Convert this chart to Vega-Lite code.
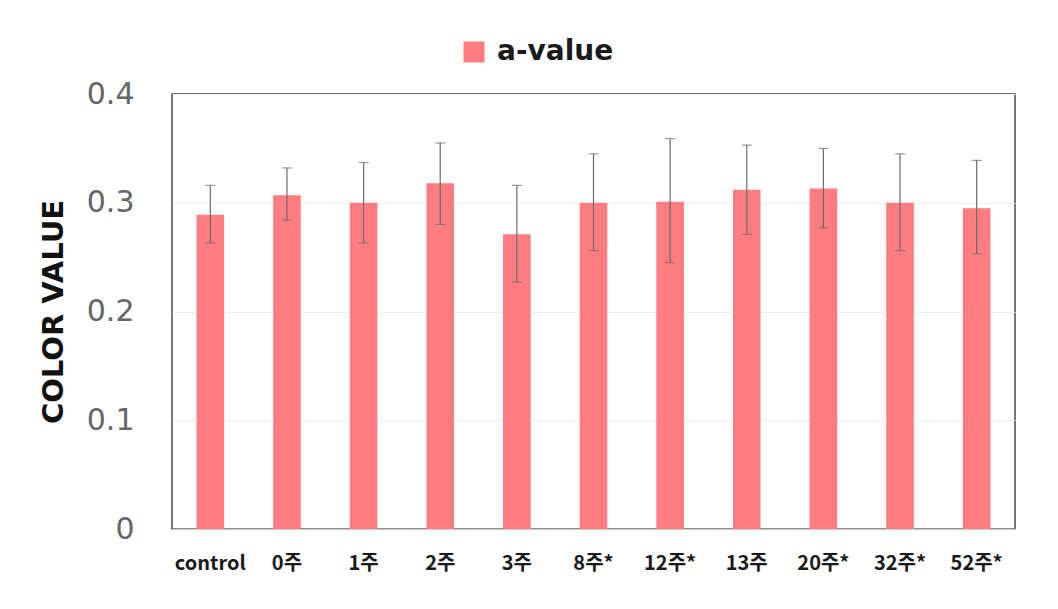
{
  "$schema": "https://vega.github.io/schema/vega-lite/v6.json",
  "width": 843,
  "height": 435,
  "autosize": {"type": "none"},
  "padding": {"left": 172, "top": 94, "right": 43, "bottom": 80},
  "background": "#ffffff",
  "config": {
    "view": {"stroke": "#4a4a4a", "strokeWidth": 1.5},
    "font": "DejaVu Sans"
  },
  "data": {
    "values": [
      {"week": "control", "series": "a-value", "value": 0.289, "lo": 0.263, "hi": 0.316},
      {"week": "0주", "series": "a-value", "value": 0.307, "lo": 0.284, "hi": 0.332},
      {"week": "1주", "series": "a-value", "value": 0.300, "lo": 0.263, "hi": 0.337},
      {"week": "2주", "series": "a-value", "value": 0.318, "lo": 0.280, "hi": 0.355},
      {"week": "3주", "series": "a-value", "value": 0.271, "lo": 0.227, "hi": 0.316},
      {"week": "8주*", "series": "a-value", "value": 0.300, "lo": 0.256, "hi": 0.345},
      {"week": "12주*", "series": "a-value", "value": 0.301, "lo": 0.245, "hi": 0.359},
      {"week": "13주", "series": "a-value", "value": 0.312, "lo": 0.271, "hi": 0.353},
      {"week": "20주*", "series": "a-value", "value": 0.313, "lo": 0.277, "hi": 0.350},
      {"week": "32주*", "series": "a-value", "value": 0.300, "lo": 0.256, "hi": 0.345},
      {"week": "52주*", "series": "a-value", "value": 0.295, "lo": 0.253, "hi": 0.339}
    ]
  },
  "encoding": {
    "x": {
      "field": "week",
      "type": "nominal",
      "sort": null,
      "scale": {"paddingInner": 0.64, "paddingOuter": 0.32},
      "axis": {
        "title": null,
        "labelAngle": 0,
        "labelFont": "Noto Sans CJK KR",
        "labelFontWeight": "bold",
        "labelFontSize": 20,
        "labelColor": "#1a1a1a",
        "labelPadding": 24,
        "ticks": false,
        "domainColor": "#d0d0d0",
        "domainWidth": 1.5
      }
    }
  },
  "layer": [
    {
      "mark": {"type": "bar"},
      "encoding": {
        "y": {
          "field": "value",
          "type": "quantitative",
          "scale": {"domain": [0, 0.4], "nice": false},
          "axis": {
            "values": [0, 0.1, 0.2, 0.3, 0.4],
            "format": "~g",
            "domain": false,
            "ticks": false,
            "grid": true,
            "gridColor": "#eeeeee",
            "labelFont": "DejaVu Sans",
            "labelFontSize": 30,
            "labelColor": "#666666",
            "labelPadding": 38,
            "title": "COLOR VALUE",
            "titleFont": "DejaVu Sans",
            "titleFontWeight": "bold",
            "titleFontSize": 29,
            "titleColor": "#111111",
            "titlePadding": 18
          }
        },
        "color": {
          "field": "series",
          "type": "nominal",
          "scale": {"range": ["#FF7C80"]},
          "legend": {
            "title": null,
            "orient": "none",
            "legendX": 288,
            "legendY": -56,
            "symbolType": "square",
            "symbolSize": 441,
            "symbolStrokeWidth": 0,
            "symbolOpacity": 1,
            "labelFont": "DejaVu Sans",
            "labelFontWeight": "bold",
            "labelFontSize": 28,
            "labelColor": "#1a1a1a",
            "labelOffset": 9
          }
        }
      }
    },
    {
      "mark": {"type": "rule", "color": "#6b6b6b", "strokeWidth": 1.2},
      "encoding": {
        "y": {"field": "lo", "type": "quantitative"},
        "y2": {"field": "hi"}
      }
    },
    {
      "mark": {"type": "tick", "orient": "horizontal", "color": "#6b6b6b", "size": 10, "thickness": 1.2},
      "encoding": {
        "y": {"field": "hi", "type": "quantitative"}
      }
    },
    {
      "mark": {"type": "tick", "orient": "horizontal", "color": "#6b6b6b", "size": 10, "thickness": 1.2},
      "encoding": {
        "y": {"field": "lo", "type": "quantitative"}
      }
    }
  ]
}
